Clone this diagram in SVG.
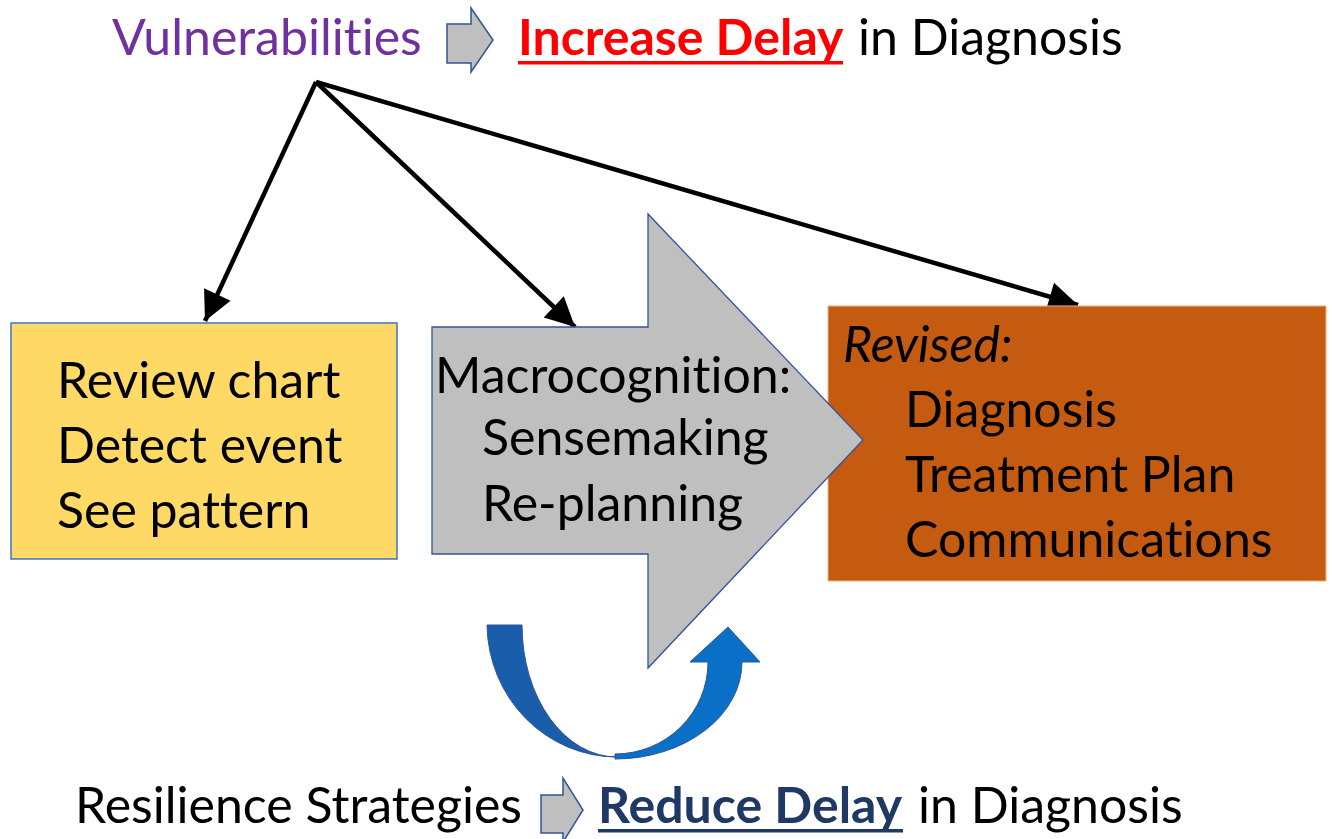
<svg xmlns="http://www.w3.org/2000/svg" width="1332" height="839" viewBox="0 0 1332 839">
  <style>
    text { font-family: Lato, "Open Sans", "Liberation Sans", sans-serif; font-size: 50px; fill: #000; font-variant-ligatures: none; }
    .purple { fill: #7030A0; }
    .red { fill: #FF0000; font-weight: bold; }
    .navy { fill: #1F3864; font-weight: bold; }
    .ital { font-style: italic; }
    .conn { stroke: #000; stroke-width: 4.5; fill: none; }
    .mini { fill: #BFBFBF; stroke: #2F5597; stroke-width: 1.5; stroke-linejoin: miter; }
  </style>
  <defs>
    <marker id="head" viewBox="0 0 10 10" refX="10" refY="5" markerWidth="7" markerHeight="6.5" markerUnits="strokeWidth" orient="auto">
      <path d="M0,0 L10,5 L0,10 Z" fill="#000"/>
    </marker>
  </defs>

  <rect width="1332" height="839" fill="#fff"/>

  <!-- header line -->
  <g id="header">
    <text x="112" y="55" class="purple">Vulnerabilities</text>
    <path class="mini" d="M447,24 L471,24 L471,8 L493,40 L471,72 L471,63 L447,63 Z"/>
    <text x="518" y="55" class="red">Increase Delay</text>
    <rect x="518" y="61" width="325" height="3.5" fill="#FF0000"/>
    <text x="858" y="55">in Diagnosis</text>
  </g>

  <!-- connectors from the vulnerabilities label -->
  <g id="connectors">
    <line class="conn" x1="316" y1="82" x2="205" y2="321" marker-end="url(#head)"/>
    <line class="conn" x1="316" y1="82" x2="575" y2="327" marker-end="url(#head)"/>
    <line class="conn" x1="316" y1="82" x2="1078" y2="305" marker-end="url(#head)"/>
  </g>

  <!-- first step box -->
  <g id="detect">
    <rect x="11" y="323" width="386" height="236" fill="#FFD966" stroke="#4472C4" stroke-width="1.5"/>
    <text x="57" y="398">Review chart</text>
    <text x="57" y="463">Detect event</text>
    <text x="57" y="528">See pattern</text>
  </g>

  <!-- revised outcomes box (sits under the block arrow tip) -->
  <g id="revised">
    <rect x="828" y="306" width="498" height="275" fill="#C55A11" stroke="#F4B183" stroke-width="1"/>
    <text x="843" y="362" class="ital">Revised:</text>
    <text x="905" y="427">Diagnosis</text>
    <text x="905" y="492">Treatment Plan</text>
    <text x="905" y="557">Communications</text>
  </g>

  <!-- macrocognition block arrow -->
  <g id="macrocognition">
    <path d="M432,327 L648,327 L648,214 L863,440 L648,668 L648,554 L432,554 Z" fill="#BFBFBF" stroke="#2F5597" stroke-width="1.3"/>
    <text x="435" y="393">Macrocognition:</text>
    <text x="482" y="455">Sensemaking</text>
    <text x="482" y="521">Re-planning</text>
  </g>

  <!-- curved resilience loop arrow -->
  <g id="loop">
    <path d="M487,625 L522,625 A95,132 0 0 0 617,757 A130,134 0 0 1 487,625 Z" fill="#1A5DAA" stroke="#2F5597" stroke-width="1"/>
    <path d="M615,759 A127,97 0 0 0 742,662 L760,662 L728,627 L690,662 L708,662 A93,92 0 0 1 615,754 Z" fill="#0A6FC6" stroke="#2F5597" stroke-width="1"/>
  </g>

  <!-- footer line -->
  <g id="footer">
    <text x="75" y="823">Resilience Strategies</text>
    <path class="mini" d="M541,795 L563,795 L563,778 L583,810 L563,842 L563,833 L541,833 Z"/>
    <text x="598" y="823" class="navy">Reduce Delay</text>
    <rect x="598" y="829" width="305" height="3.5" fill="#1F3864"/>
    <text x="918" y="823">in Diagnosis</text>
  </g>
</svg>
